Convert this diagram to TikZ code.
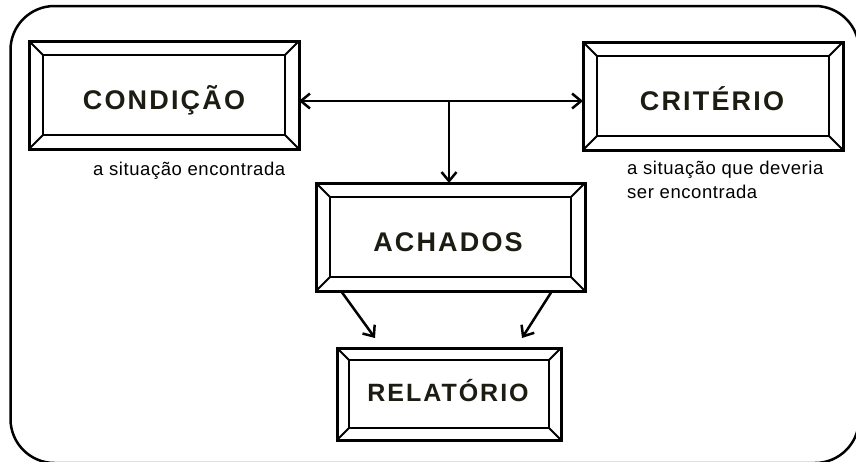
\documentclass[tikz,border=0pt]{standalone}
\usepackage{fontspec}
\setmainfont{Liberation Sans}
\newfontfamily\capsfont{Liberation Sans}[LetterSpace=8]
\newfontfamily\notefont{Liberation Sans}[LetterSpace=3]
\usetikzlibrary{arrows.meta}

\definecolor{inkdark}{RGB}{28,28,18}

% inner frame and corner bevels of a boxed panel, inset by #1 pt
\newcommand\bevelframe[1]{%
  \draw[line width=2.2pt]
    ([xshift=#1pt,yshift=#1pt]path picture bounding box.south west) rectangle
    ([xshift=-#1pt,yshift=-#1pt]path picture bounding box.north east);
  \draw[line width=1.8pt]
    (path picture bounding box.south west) -- ([xshift=#1pt,yshift=#1pt]path picture bounding box.south west)
    (path picture bounding box.north east) -- ([xshift=-#1pt,yshift=-#1pt]path picture bounding box.north east)
    (path picture bounding box.north west) -- ([xshift=#1pt,yshift=-#1pt]path picture bounding box.north west)
    (path picture bounding box.south east) -- ([xshift=-#1pt,yshift=#1pt]path picture bounding box.south east);
}

\tikzset{
  bevelbox/.style={draw, line width=3pt, inner sep=0pt, outer sep=0pt,
    path picture={\bevelframe{#1}}},
  bevelbox/.default=14,
  boxlabel/.style={inner sep=0pt, text=inkdark,
    font=\capsfont\bfseries\fontsize{27}{32}\selectfont},
  note/.style={inner sep=0pt, align=left, text=black,
    font=\notefont\fontsize{18.5}{24}\selectfont},
  arr/.style={line width=2.5pt, -{Straight Barb[length=9pt,width=15pt]}},
  arrboth/.style={line width=2.5pt,
    {Straight Barb[length=9pt,width=15pt]}-{Straight Barb[length=9pt,width=15pt]}},
}

\begin{document}
\begin{tikzpicture}[x=1pt, y=-1pt]
  \useasboundingbox (0,0) rectangle (856,461);
  \clip (0,0) rectangle (856,461);
  \fill[white] (0,0) rectangle (856,461);

  % surrounding rounded frame
  \draw[line width=2.5pt, rounded corners=44pt] (10.5,6) rectangle (859,463);

  % panels
  \node[bevelbox=14, minimum width=270pt, minimum height=108pt] (cond) at (164,95) {};
  \node[bevelbox=14, minimum width=260pt, minimum height=108pt] (crit) at (713,96) {};
  \node[bevelbox=14, minimum width=269pt, minimum height=108pt] (ach) at (450.5,237) {};
  \node[bevelbox=12, minimum width=224pt, minimum height=92pt] (rel) at (449,394) {};

  % panel titles
  \node[boxlabel, anchor=base] (condtxt) at (164,109.5) {CONDIÇÃO};
  \node[boxlabel, anchor=base] (crittxt) at (712,110) {CRITÉRIO};
  \node[boxlabel, anchor=base] (achtxt) at (448,251.5) {ACHADOS};
  \node[boxlabel, anchor=base, font=\capsfont\bfseries\fontsize{25}{30}\selectfont] (reltxt) at (448,401.5) {RELATÓRIO};

  % descriptions
  \node[note, anchor=base west] (condnote) at (93,175) {a situação encontrada};
  \node[note, anchor=base west] (critnote) at (627,198) {a situação que deveria\\ser encontrada};

  % connectors
  \coordinate (junc) at (449,101);
  \coordinate (endl) at (375,338);
  \coordinate (endr) at (522,338);
  \draw[arrboth] (junc -| cond.east) -- (junc -| crit.west);
  \draw[arr] (junc) -- (junc |- ach.north);
  \draw[arr] ([xshift=25pt]ach.south west) -- (endl);
  \draw[arr] ([xshift=-33pt]ach.south east) -- (endr);
\end{tikzpicture}
\end{document}
